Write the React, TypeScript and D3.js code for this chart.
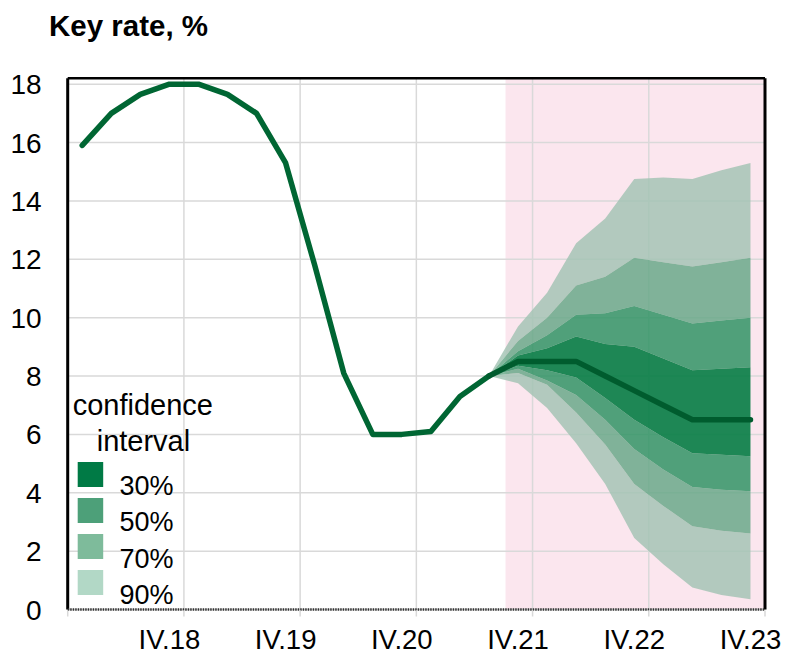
import React from 'react';
import * as d3 from 'd3';

const QUARTERS = [
  'I.18', 'II.18', 'III.18', 'IV.18',
  'I.19', 'II.19', 'III.19', 'IV.19',
  'I.20', 'II.20', 'III.20', 'IV.20',
  'I.21', 'II.21', 'III.21', 'IV.21',
  'I.22', 'II.22', 'III.22', 'IV.22',
  'I.23', 'II.23', 'III.23', 'IV.23',
];
const TICK_LABELS = ['IV.18', 'IV.19', 'IV.20', 'IV.21', 'IV.22', 'IV.23'];
const Y_TICKS = [0, 2, 4, 6, 8, 10, 12, 14, 16, 18];

// actual key rate, I.18 .. III.21
const HISTORY = [15.9, 17.0, 17.65, 18.0, 18.0, 17.65, 17.0, 15.3, 11.8, 8.1, 6.0, 6.0, 6.1, 7.3, 8.0];
// forecast from III.21 .. IV.23
const FORECAST = [8.0, 8.5, 8.5, 8.5, 8.0, 7.5, 7.0, 6.5, 6.5, 6.5];
const UPPER90 = [8.0, 9.7, 10.85, 12.55, 13.4, 14.75, 14.8, 14.75, 15.05, 15.3];
const UPPER70 = [8.0, 9.2, 10.0, 11.1, 11.4, 12.05, 11.9, 11.75, 11.9, 12.05];
const UPPER50 = [8.0, 8.85, 9.4, 10.1, 10.15, 10.4, 10.1, 9.8, 9.9, 10.0];
const UPPER30 = [8.0, 8.7, 8.95, 9.35, 9.1, 9.0, 8.6, 8.2, 8.25, 8.3];
const LOWER30 = [8.0, 8.35, 8.2, 7.95, 7.25, 6.5, 5.9, 5.35, 5.3, 5.25];
const LOWER50 = [8.0, 8.25, 7.85, 7.35, 6.5, 5.5, 4.8, 4.2, 4.1, 4.05];
const LOWER70 = [8.0, 8.1, 7.7, 6.75, 5.65, 4.3, 3.55, 2.85, 2.7, 2.6];
const LOWER90 = [8.0, 7.75, 6.9, 5.7, 4.3, 2.45, 1.55, 0.75, 0.5, 0.35];

const LEGEND = ['30%', '50%', '70%', '90%'];
const LEGEND_COLORS = ['#007a45', '#4da079', '#7ebb9b', '#b2d8c6'];

const W = 787, H = 655;
const margin = { top: 78.3, right: 22, bottom: 45.5, left: 67.7 };
const FONT = '"Liberation Sans", Arial, sans-serif';

const App = () => {
  const x = d3.scaleBand().domain(QUARTERS).range([margin.left, W - margin.right]).padding(0);
  const y = d3.scaleLinear().domain([0, 18.2]).range([H - margin.bottom, margin.top]);
  const bw = x.bandwidth();
  const cx = (q: string) => (x(q) as number) + bw / 2;

  const fcQuarters = QUARTERS.slice(HISTORY.length - 1);
  const line = d3.line<[string, number]>().x(d => cx(d[0])).y(d => y(d[1]));
  const band = (lo: number[], hi: number[]) =>
    d3.area<number>().x((_, i) => cx(fcQuarters[i])).y0((_, i) => y(lo[i])).y1((_, i) => y(hi[i]))(lo.map((_, i) => i)) as string;

  const rings = [
    { lo: UPPER70, hi: UPPER90, fill: '#a0c2b1', op: 0.8 },
    { lo: LOWER90, hi: LOWER70, fill: '#a0c2b1', op: 0.8 },
    { lo: UPPER50, hi: UPPER70, fill: '#61a583', op: 0.8 },
    { lo: LOWER70, hi: LOWER50, fill: '#61a583', op: 0.8 },
    { lo: UPPER30, hi: UPPER50, fill: '#258f5d', op: 0.8 },
    { lo: LOWER50, hi: LOWER30, fill: '#258f5d', op: 0.8 },
    { lo: LOWER30, hi: UPPER30, fill: '#057c44', op: 0.9 },
  ];

  const gridX = QUARTERS.filter(q => q.startsWith('IV.')).map(q => (x(q) as number) + bw);
  const tickX = [margin.left, ...gridX];
  const shadeStart = (x('IV.21') as number) + 2;
  const x0 = margin.left, x1 = W - margin.right, y0 = H - margin.bottom, y1 = margin.top;

  return (
    <svg width={W} height={H} style={{ position: 'absolute', left: 0, top: 0 }} fontFamily={FONT}>
      <rect x={0} y={0} width={W} height={H} fill="#fff" />
      <rect x={shadeStart} y={y1} width={x1 - shadeStart} height={y0 - y1} fill="#fbe6ee" />
      {Y_TICKS.map(t => (
        <line key={'gy' + t} x1={x0} x2={x1} y1={y(t)} y2={y(t)} stroke="#d9d9d9" strokeWidth={1.5} />
      ))}
      {gridX.map(g => (
        <line key={'gx' + g} x1={g} x2={g} y1={y1} y2={y0} stroke="#d9d9d9" strokeWidth={1.5} />
      ))}
      {rings.map((r, i) => (
        <path key={'r' + i} d={band(r.lo, r.hi)} fill={r.fill} fillOpacity={r.op} />
      ))}
      <path d={line(HISTORY.map((v, i) => [QUARTERS[i], v])) as string} fill="none" stroke="#006633"
        strokeWidth={5.5} strokeLinejoin="round" strokeLinecap="round" />
      <path d={line(FORECAST.map((v, i) => [fcQuarters[i], v])) as string} fill="none" stroke="#005c2e"
        strokeWidth={5.5} strokeLinejoin="round" strokeLinecap="round" />

      {/* frame */}
      <line x1={x0} x2={x1} y1={y1} y2={y1} stroke="#000" strokeWidth={2.5} />
      <line x1={x0} x2={x0} y1={y1} y2={y0} stroke="#000" strokeWidth={3} />
      <line x1={x1} x2={x1} y1={y1} y2={y0} stroke="#000" strokeWidth={3} />
      <line x1={x0} x2={x1} y1={y0} y2={y0} stroke="#333" strokeWidth={2.5} strokeDasharray="1.5 1" />
      {tickX.map(t => (
        <line key={'t' + t} x1={t} x2={t} y1={y0 + 1} y2={y0 + 7} stroke="#d9d9d9" strokeWidth={1.5} />
      ))}

      {Y_TICKS.map(t => (
        <text key={'yl' + t} x={41.7} y={y(t)} dy="0.36em" textAnchor="end" fontSize={28} fill="#000">{t}</text>
      ))}
      {TICK_LABELS.map(l => (
        <text key={'xl' + l} x={cx(l)} y={649} textAnchor="middle" fontSize={27.5} fill="#000">{l}</text>
      ))}

      <text x={49} y={36} fontSize={29.5} fontWeight="bold" fill="#000">Key rate, %</text>

      <text x={72.7} y={415} fontSize={29} fill="#000">confidence</text>
      <text x={96.7} y={451} fontSize={29} fill="#000">interval</text>
      {LEGEND.map((l, i) => (
        <g key={l}>
          <rect x={77.7} y={462 + i * 36} width={25.5} height={25} fill={LEGEND_COLORS[i]} />
          <text x={119.5} y={495 + i * 36.3} fontSize={27} fill="#000">{l}</text>
        </g>
      ))}
    </svg>
  );
};

export default App;
